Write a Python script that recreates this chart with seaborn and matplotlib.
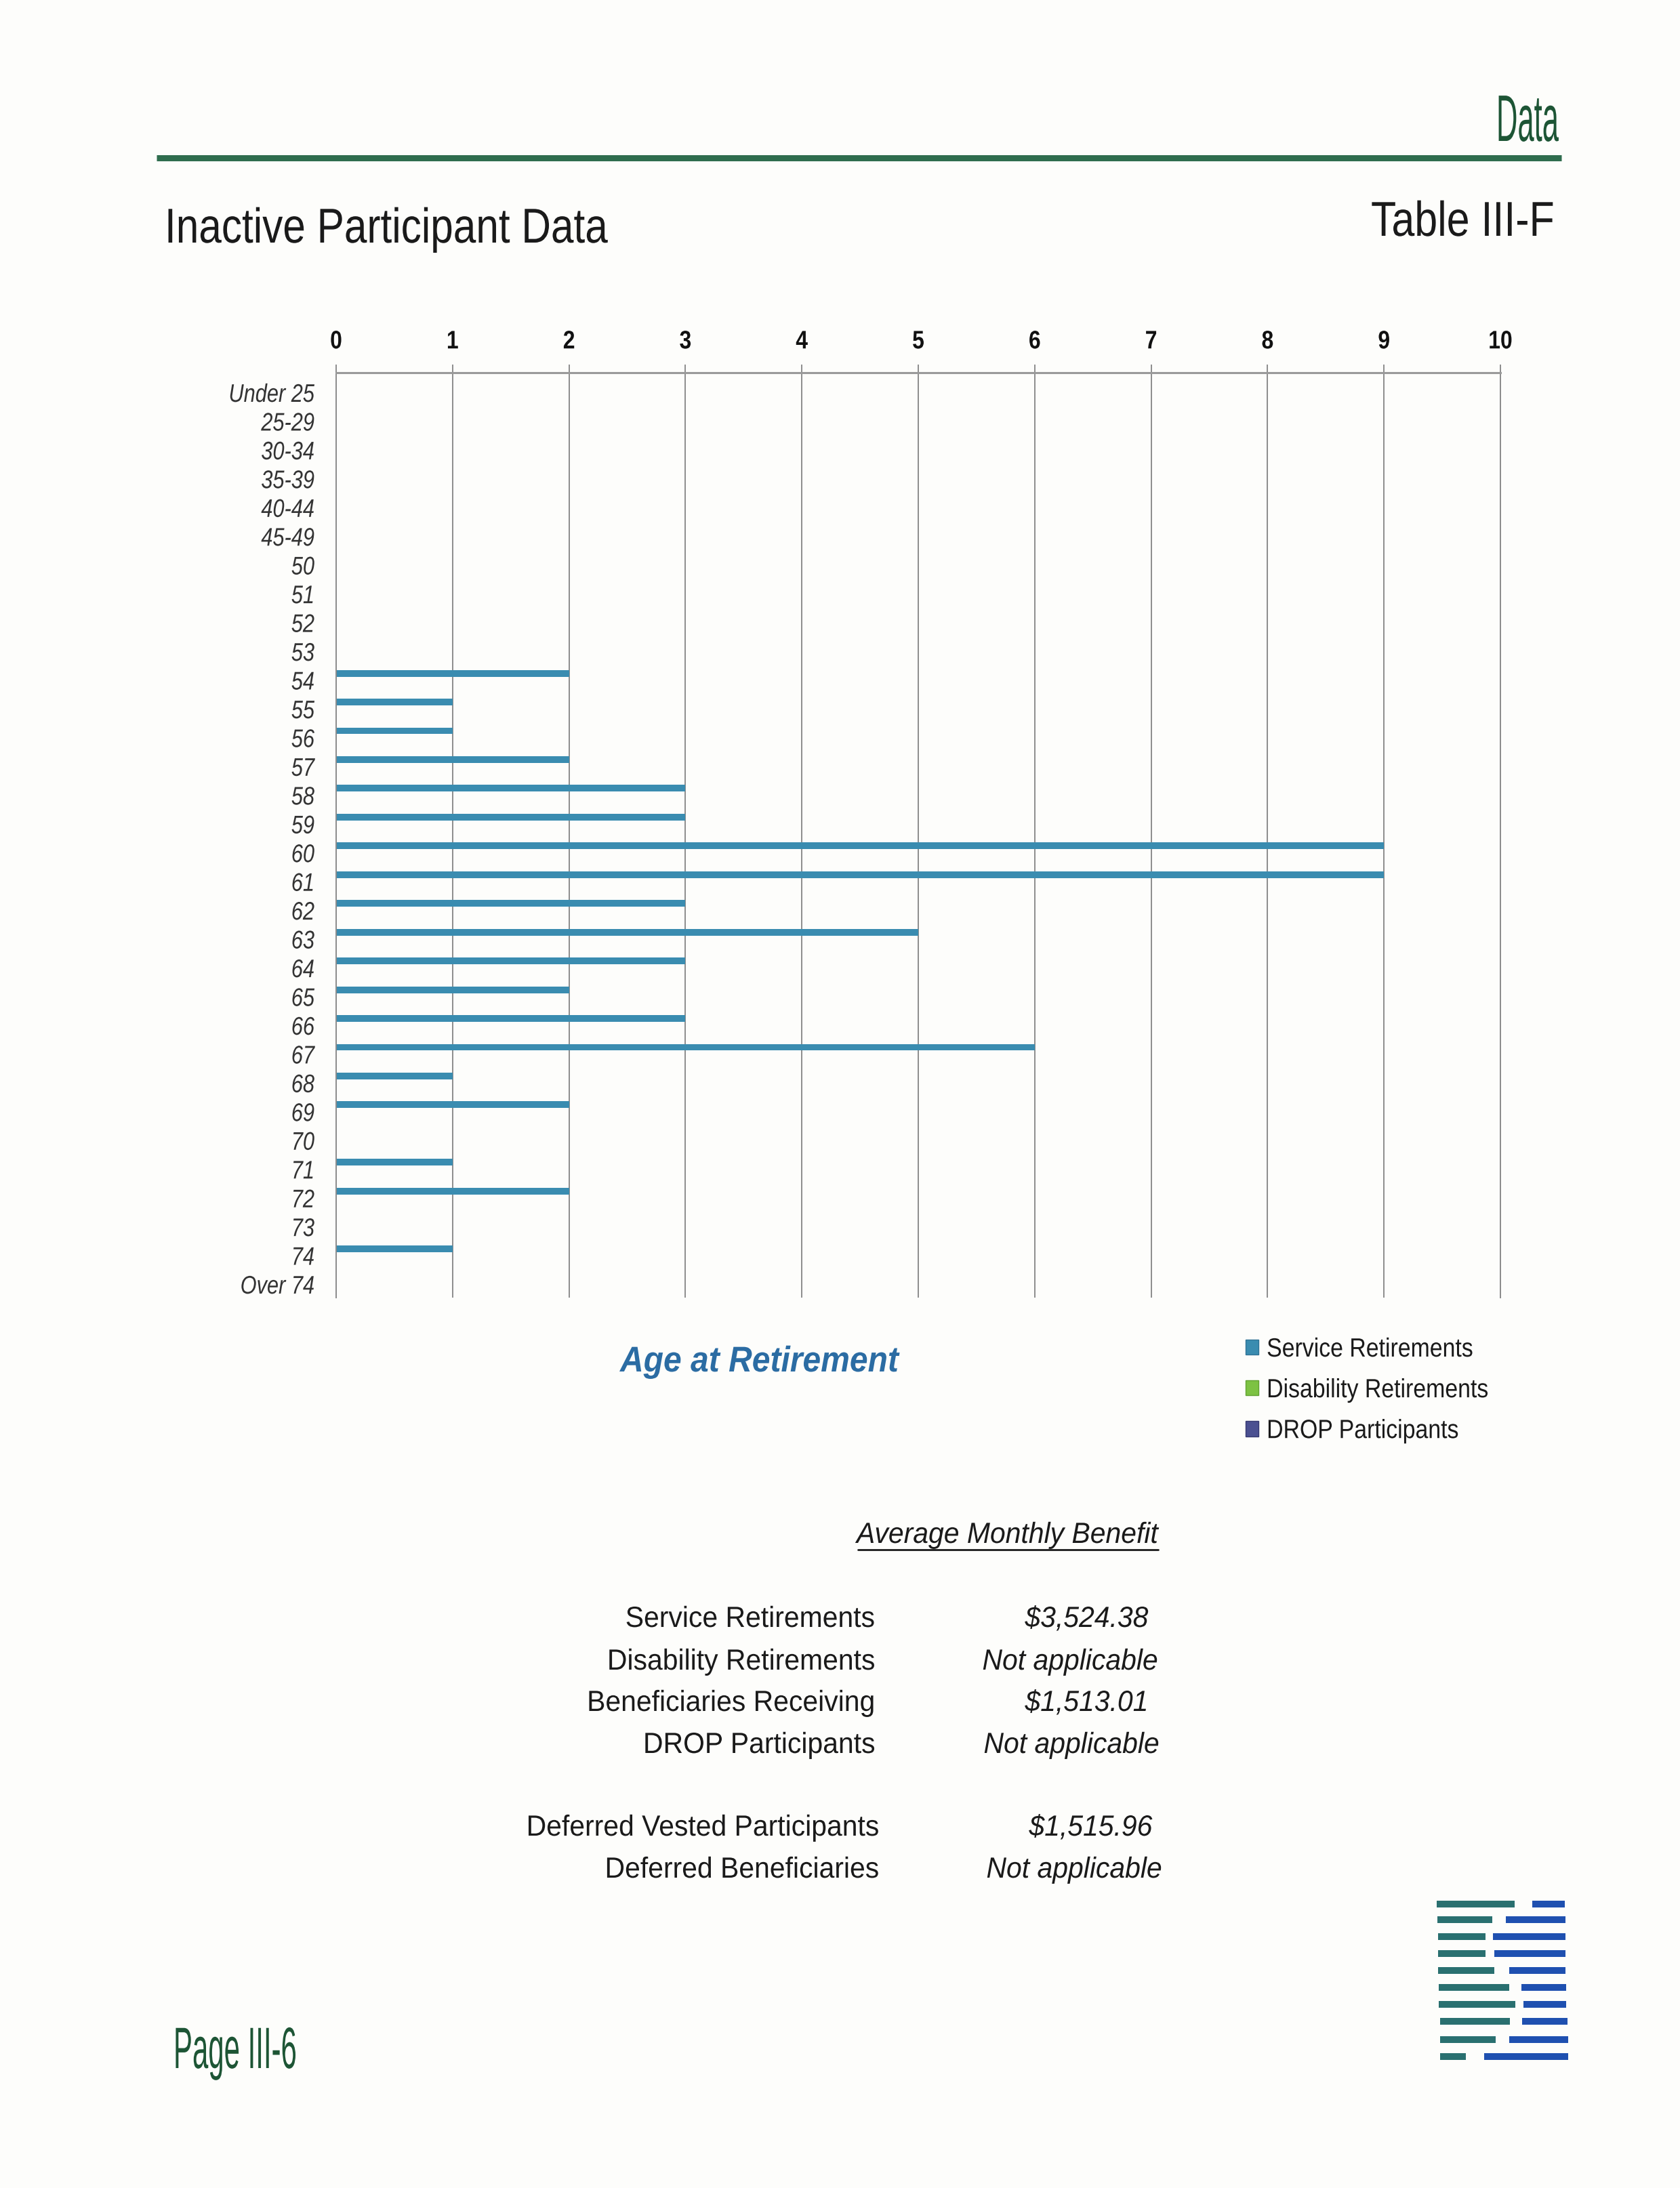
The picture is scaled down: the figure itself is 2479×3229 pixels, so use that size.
import numpy as np
import pandas as pd
import seaborn as sns
import matplotlib.pyplot as plt
from matplotlib import font_manager
from matplotlib.lines import Line2D
from matplotlib.patches import Patch
from matplotlib.patheffects import AbstractPathEffect
from matplotlib.transforms import Affine2D


W, H = 2479, 3229

# chart data
AGE_GROUPS = ['Under 25', '25-29', '30-34', '35-39', '40-44', '45-49',
              '50', '51', '52', '53', '54', '55', '56', '57', '58', '59',
              '60', '61', '62', '63', '64', '65', '66', '67', '68', '69',
              '70', '71', '72', '73', '74', 'Over 74']
SERVICE = [0, 0, 0, 0, 0, 0,
           0, 0, 0, 0, 2, 1, 1, 2, 3, 3,
           9, 9, 3, 5, 3, 2, 3, 6, 1, 2,
           0, 1, 2, 0, 1, 0]
DISABILITY = [0, 0, 0, 0, 0, 0,
              0, 0, 0, 0, 0, 0, 0, 0, 0, 0,
              0, 0, 0, 0, 0, 0, 0, 0, 0, 0,
              0, 0, 0, 0, 0, 0]
DROP = [0, 0, 0, 0, 0, 0,
        0, 0, 0, 0, 0, 0, 0, 0, 0, 0,
        0, 0, 0, 0, 0, 0, 0, 0, 0, 0,
        0, 0, 0, 0, 0, 0]
SERIES = ['Service Retirements', 'Disability Retirements', 'DROP Participants']
X_TICKS = [0, 1, 2, 3, 4, 5, 6, 7, 8, 9, 10]

# benefit table
BENEFIT_LABELS = ['Service Retirements', 'Disability Retirements',
                  'Beneficiaries Receiving', 'DROP Participants',
                  'Deferred Vested Participants', 'Deferred Beneficiaries']
BENEFIT_VALUES = ['$3,524.38', 'Not applicable', '$1,513.01',
                  'Not applicable', '$1,515.96', 'Not applicable']

# logo stripes (pixel geometry of the decoration)
LOGO_Y = [20, 43, 68, 93, 118, 143, 168, 193, 220, 245]
TEAL_START = [10, 11, 12, 12, 12, 13, 13, 15, 15, 15]
TEAL_END = [125, 92, 82, 82, 95, 117, 126, 118, 97, 53]
BLUE_START = [151, 112, 93, 95, 117, 135, 138, 136, 117, 80]
BLUE_END = [199, 200, 200, 200, 200, 201, 201, 203, 204, 204]

COLORS = ['#3a8cb0', '#7dc243', '#4b5091']
EDGES = ['#2f7396', '#62a233', '#363a72']
GREEN = '#1d5535'


def fx(px):
    return px / W


def fy(py):
    return 1 - py / H


class Squeeze(AbstractPathEffect):
    # compress glyphs horizontally around a fixed x (display pixels)
    def __init__(self, sx, anchor):
        super().__init__()
        self.sx = sx
        self.anchor = anchor

    def draw_path(self, renderer, gc, tpath, affine, rgbFace=None):
        tr = affine + Affine2D().translate(-self.anchor, 0).scale(self.sx, 1).translate(self.anchor, 0)
        renderer.draw_path(gc, tpath, tr, rgbFace)


def squeeze(t, sx, renderer, where):
    bb = t.get_window_extent(renderer)
    anchor = {'left': bb.x0, 'right': bb.x1}.get(where, (bb.x0 + bb.x1) / 2)
    t.set_path_effects([Squeeze(sx, anchor)])


names = {f.name for f in font_manager.fontManager.ttflist}
NARROW = 'Liberation Sans Narrow' if 'Liberation Sans Narrow' in names else 'Liberation Sans'

sns.set_style('white')
plt.rcParams['font.family'] = [NARROW, 'DejaVu Sans']

fig = plt.figure(figsize=(W / 100, H / 100), dpi=100, facecolor='#fdfdfb')

# main chart
ax = fig.add_axes([fx(496), fy(1915), (2214 - 496) / W, (1915 - 550) / H])
ax.set_facecolor('none')

df = pd.DataFrame({
    'age': AGE_GROUPS * 3,
    'count': SERVICE + DISABILITY + DROP,
    'kind': [SERIES[0]] * len(AGE_GROUPS) + [SERIES[1]] * len(AGE_GROUPS) + [SERIES[2]] * len(AGE_GROUPS),
})
sns.barplot(data=df, x='count', y='age', hue='kind', order=AGE_GROUPS, hue_order=SERIES,
            orient='h', palette=COLORS, width=0.7, saturation=1, linewidth=0,
            errorbar=None, legend=False, ax=ax)

ax.set_xlim(0, 10)
ax.set_ylim(31.47, -0.683)
ax.set_xlabel('')
ax.set_ylabel('')
ax.set_xticks(X_TICKS)
ax.xaxis.tick_top()
ax.grid(axis='x', color='#8c8c8c', linewidth=1.4)
ax.grid(axis='y', visible=False)
ax.set_axisbelow(True)
ax.tick_params(axis='x', top=True, bottom=False, length=9, width=1.4, color='#8c8c8c',
               pad=11, labelsize=27, labelcolor='#111111')
ax.tick_params(axis='y', length=0, pad=23, labelsize=27, labelcolor='#333333')
plt.setp(ax.get_xticklabels(), fontweight='bold')
plt.setp(ax.get_yticklabels(), fontstyle='italic')
for side in ['left', 'right']:
    ax.spines[side].set_color('#8c8c8c')
    ax.spines[side].set_linewidth(1.4)
ax.spines['bottom'].set_visible(False)
ax.spines['top'].set_color('#9a9a9a')
ax.spines['top'].set_linewidth(2.2)

# legend
handles = [Patch(facecolor=c, edgecolor=e, linewidth=1) for c, e in zip(COLORS, EDGES)]
leg = fig.legend(handles, SERIES, loc='upper left', bbox_to_anchor=(fx(1838), fy(1974)),
                 frameon=False, fontsize=28, handlelength=0.5, handleheight=0.5,
                 handletextpad=0.3, labelspacing=0.62, borderpad=0, borderaxespad=0,
                 labelcolor='#1a1a1a')

# header
fig.add_artist(Line2D([fx(231), fx(2304)], [fy(233), fy(233)], color='#2f6d4e',
                      linewidth=6.5, solid_capstyle='butt'))
fit_jobs = []
t = fig.text(fx(2208), fy(208), 'Data', fontsize=70, color=GREEN, ha='left', va='baseline')
fit_jobs.append((t, 92))
t = fig.text(fx(243), fy(358), 'Inactive Participant Data', fontsize=52, color='#1a1a1a',
             ha='left', va='baseline')
fit_jobs.append((t, 655))
t = fig.text(fx(2023), fy(348), 'Table III-F', fontsize=52, color='#1a1a1a',
             ha='left', va='baseline')
fit_jobs.append((t, 271))
t = fig.text(fx(915), fy(2024), 'Age at Retirement', fontsize=38, color='#2b6ca3',
             fontweight='bold', fontstyle='italic', ha='left', va='baseline')
fit_jobs.append((t, 411))
t = fig.text(fx(256), fy(3052), 'Page III-6', fontsize=62, color=GREEN, ha='left', va='baseline')
fit_jobs.append((t, 182))

# benefit table
table_texts = []
head = fig.text(fx(1708), fy(2277), 'Average Monthly Benefit', fontsize=31, fontstyle='italic',
                color='#1a1a1a', ha='right', va='baseline')
table_texts.append(head)
row_base = [2401, 2464, 2525, 2587, 2709, 2771]
label_right = [1291, 1291, 1291, 1291, 1297, 1297]
value_right = [1694, 1708, 1694, 1710, 1700, 1714]
for lab, val, yb, lr, vr in zip(BENEFIT_LABELS, BENEFIT_VALUES, row_base, label_right, value_right):
    table_texts.append(fig.text(fx(lr), fy(yb), lab, fontsize=31, color='#1a1a1a',
                                ha='right', va='baseline'))
    table_texts.append(fig.text(fx(vr), fy(yb), val, fontsize=31, fontstyle='italic',
                                color='#1a1a1a', ha='right', va='baseline'))
fig.add_artist(Line2D([fx(1266), fx(1709)], [fy(2287), fy(2287)], color='#1a1a1a', linewidth=2))

# narrow look for the body text
fig.canvas.draw()
renderer = fig.canvas.get_renderer()
for t, target in fit_jobs:
    squeeze(t, target / t.get_window_extent(renderer).width, renderer, 'left')
for t in table_texts:
    squeeze(t, 0.95, renderer, 'right')
for t in ax.get_yticklabels():
    squeeze(t, 0.82, renderer, 'right')
for t in ax.get_xticklabels():
    squeeze(t, 0.85, renderer, 'center')
for t in leg.get_texts():
    squeeze(t, 0.87, renderer, 'left')

# logo
lax = fig.add_axes([fx(2110), fy(3050), 220 / W, 260 / H])
lax.barh(LOGO_Y, np.array(TEAL_END) - np.array(TEAL_START), left=TEAL_START,
         height=9.5, color='#2a7070', linewidth=0)
lax.barh(LOGO_Y, np.array(BLUE_END) - np.array(BLUE_START), left=BLUE_START,
         height=9.5, color='#1f50b0', linewidth=0)
lax.set_xlim(0, 220)
lax.set_ylim(260, 0)
lax.axis('off')

fig.savefig('out.png', dpi=100, facecolor=fig.get_facecolor())
